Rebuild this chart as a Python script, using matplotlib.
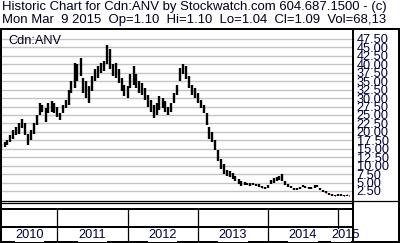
import numpy as np
import pandas as pd
import matplotlib
matplotlib.use("Agg")
import matplotlib.pyplot as plt
import matplotlib.dates as mdates
from matplotlib.lines import Line2D
import datetime as dt

plt.rcParams['font.family'] = ['Liberation Sans', 'DejaVu Sans']

# semi-monthly bars (Mar 2010 -> Mar 2015)
start_date = '2010-03-15'
highs = [16.5, 17.0, 17.5, 19.0, 20.5, 21.5, 22.5, 23.8, 22.5, 19.5,
         20.5, 22.5, 25.0, 28.5, 28.0, 27.0, 28.5, 29.0, 28.5, 27.5,
         25.5, 28.0, 29.5, 32.5, 35.0, 40.5, 40.0, 42.0, 36.0, 35.0,
         33.5, 36.5, 38.5, 39.5, 40.5, 41.0, 45.7, 44.5, 40.0, 40.5,
         38.5, 36.0, 34.0, 33.5, 37.0, 39.5, 37.0, 35.0, 34.5, 33.0,
         31.0, 29.5, 28.0, 28.5, 30.5, 30.0, 29.0, 27.5, 28.5, 31.5,
         34.0, 39.0, 40.0, 39.5, 36.5, 34.0, 33.0, 31.5, 29.5, 28.0,
         25.5, 21.5, 20.0, 17.5, 14.5, 12.0, 10.5, 8.8, 8.5, 7.8,
         7.0, 6.0, 5.5, 5.1, 5.0, 4.8, 5.0, 4.7, 4.5, 4.0,
         3.8, 4.2, 5.6, 6.2, 6.5, 6.8, 7.5, 5.5, 4.6, 4.0,
         3.5, 3.3, 3.6, 4.3, 4.1, 3.6, 3.7, 4.2, 4.3, 3.5,
         2.9, 2.5, 2.0, 1.5, 1.3, 1.5, 1.5, 1.3, 1.3, 1.10]
lows = [15.0, 15.5, 16.0, 17.0, 18.0, 19.0, 19.5, 21.0, 19.0, 16.2,
        17.5, 19.5, 22.0, 25.0, 26.0, 23.0, 25.5, 26.0, 25.5, 24.5,
        23.5, 25.5, 27.0, 28.0, 31.5, 33.0, 35.0, 36.5, 31.5, 30.0,
        28.5, 32.0, 35.0, 36.0, 37.5, 38.0, 40.0, 38.5, 36.5, 36.0,
        34.5, 32.0, 30.5, 30.0, 33.0, 34.0, 33.0, 31.5, 31.0, 29.5,
        27.5, 26.0, 24.0, 25.0, 26.5, 27.0, 26.0, 25.0, 26.0, 28.5,
        31.0, 35.0, 37.0, 35.5, 33.0, 31.0, 30.0, 28.5, 27.0, 25.5,
        22.0, 18.0, 17.0, 14.5, 11.5, 9.0, 7.5, 7.0, 6.5, 6.0,
        5.5, 4.5, 4.0, 4.2, 4.3, 4.0, 4.2, 3.9, 3.8, 3.3,
        3.2, 3.4, 4.5, 5.0, 5.5, 5.8, 5.5, 4.3, 3.8, 3.3,
        2.9, 2.7, 3.0, 3.6, 3.5, 3.1, 3.0, 3.5, 3.6, 2.9,
        2.2, 1.8, 1.3, 1.0, 0.9, 1.0, 1.1, 0.9, 1.0, 1.04]
closes = [16.0, 16.5, 17.0, 18.5, 20.0, 20.5, 22.0, 22.5, 19.5, 18.0,
          20.0, 22.0, 24.5, 27.5, 26.5, 26.0, 27.5, 27.0, 26.5, 25.0,
          24.5, 27.0, 28.5, 31.5, 34.0, 37.0, 38.0, 37.5, 33.0, 31.0,
          32.0, 35.5, 37.0, 38.5, 39.0, 40.0, 43.0, 39.0, 38.0, 37.0,
          35.0, 33.0, 31.5, 32.5, 35.0, 36.5, 34.0, 33.5, 32.0, 30.5,
          28.5, 27.0, 26.0, 27.0, 28.5, 28.0, 27.0, 26.5, 28.0, 30.5,
          33.5, 37.5, 38.5, 37.0, 34.5, 32.0, 31.0, 29.5, 28.0, 26.0,
          23.0, 19.0, 18.0, 15.5, 12.5, 10.0, 8.0, 8.0, 7.0, 6.5,
          6.0, 5.0, 4.5, 4.6, 4.5, 4.4, 4.6, 4.2, 4.0, 3.5,
          3.5, 4.0, 5.2, 5.8, 6.0, 6.3, 6.2, 4.8, 4.0, 3.6,
          3.1, 3.0, 3.4, 4.0, 3.8, 3.3, 3.4, 3.9, 3.9, 3.2,
          2.5, 2.0, 1.5, 1.2, 1.1, 1.3, 1.3, 1.1, 1.2, 1.09]
years = [2010, 2011, 2012, 2013, 2014, 2015]
price_ticks = np.arange(2.5, 47.6, 2.5)

title1 = "Historic Chart for Cdn:ANV by Stockwatch.com 604.687.1500 - (c)"
title2 = "Mon Mar  9 2015  Op=1.10  Hi=1.10  Lo=1.04  Cl=1.09  Vol=68,13"

W, H = 400, 243
fig = plt.figure(figsize=(W / 100, H / 100), dpi=100)
fig.patch.set_facecolor('white')


def box(x0, y0, x1, y1):
    # pixel box (from top-left) -> figure fraction rect
    return [x0 / W, 1 - y1 / H, (x1 - x0) / W, (y1 - y0) / H]


def hline(x0, x1, y, lw=1.44):
    fig.add_artist(Line2D([x0 / W, x1 / W], [1 - y / H, 1 - y / H],
                          color='black', lw=lw, transform=fig.transFigure))


def vline(x, y0, y1, lw=1.44):
    fig.add_artist(Line2D([x / W, x / W], [1 - y0 / H, 1 - y1 / H],
                          color='black', lw=lw, transform=fig.transFigure))


xl = (mdates.date2num(dt.datetime(2010, 3, 13)), mdates.date2num(dt.datetime(2015, 3, 17)))

dates = pd.date_range(start_date, periods=len(highs), freq='SMS')
x = mdates.date2num(dates.to_pydatetime())

ax = fig.add_axes(box(1, 29, 352.5, 200.7))
ax.set_xlim(*xl)
ax.set_ylim(-0.38, 50.44)
ax.hlines(closes, x, x + 4, color='#ff0000', lw=1.1, zorder=2)
ax.vlines(x, lows, highs, color='black', lw=1.7, zorder=3)
ax.set_yticks(price_ticks)
ax.set_yticklabels(['%.2f' % v for v in price_ticks])
ax.yaxis.tick_right()
ax.tick_params(axis='y', length=0, pad=3, labelsize=9.2, labelcolor='#000040')
ax.set_xticks([])
ax.yaxis.grid(True, color='#c4c4c4', lw=1.0)
ax.set_axisbelow(True)
for s in ['left', 'top', 'right']:
    ax.spines[s].set_linewidth(1.44)
ax.spines['bottom'].set_linewidth(0.9)
ax.text(0.02, 0.93, 'Cdn:ANV', transform=ax.transAxes, fontsize=9.2,
        color='#000020', va='center', ha='left')

# date strip
ax2 = fig.add_axes(box(1, 209.3, 352.5, 242))
ax2.set_xlim(*xl)
ax2.set_ylim(0, 1)
ax2.set_xticks([])
ax2.set_yticks([])
for s in ax2.spines.values():
    s.set_linewidth(1.44)
ax2.axhline(0.468, color='black', lw=1.44)
for yr in years:
    a = max(mdates.date2num(dt.datetime(yr, 1, 1)), xl[0])
    b = min(mdates.date2num(dt.datetime(yr + 1, 1, 1)), xl[1])
    if yr > years[0]:
        ax2.axvline(a, color='black', lw=0.9)
    ax2.text((a + b) / 2, 0.2, str(yr), ha='center', va='center', fontsize=9.2,
             color='#000040', clip_on=False,
             bbox=dict(facecolor='white', edgecolor='none', pad=0.3))

# outer frame bits
hline(0, 352.5, 203.3, lw=0.9)
hline(352, 400, 29)
hline(352, 400, 200.7, lw=0.9)
hline(352, 400, 242)
vline(398.5, 29, 242.5)
vline(352.5, 200, 242.5)
vline(1, 200, 210)

fig.text(1.5 / W, 1 - 10.3 / H, title1, fontsize=9.45, color='#000020', va='baseline')
fig.text(1.5 / W, 1 - 23.3 / H, title2, fontsize=9.45, color='#000020', va='baseline')

fig.savefig('out.png', dpi=100)
